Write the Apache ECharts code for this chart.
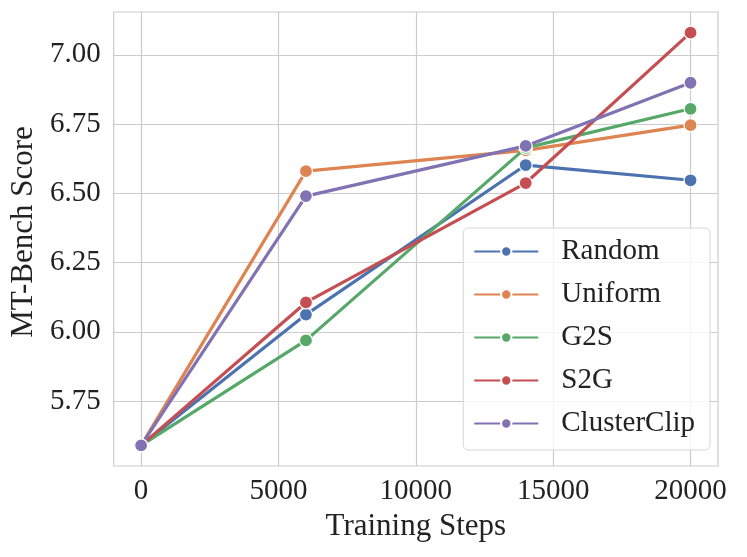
<!DOCTYPE html>
<html>
<head>
<meta charset="utf-8">
<script src="https://cdn.jsdelivr.net/npm/echarts@6/dist/echarts.min.js"></script>
<style>html,body{margin:0;padding:0;background:#fff}#c{width:747px;height:557px}</style>
</head>
<body>
<div id="c"></div>
<script>
const steps = [0, 6000, 14000, 20000];
const seriesNames = ['Random', 'Uniform', 'G2S', 'S2G', 'ClusterClip'];
const randomVals = [5.59, 6.062, 6.602, 6.547];
const uniformVals = [5.59, 6.580, 6.655, 6.746];
const g2sVals = [5.59, 5.969, 6.664, 6.805];
const s2gVals = [5.59, 6.106, 6.537, 7.080];
const clusterClipVals = [5.59, 6.490, 6.671, 6.899];
const xTicks = [0, 5000, 10000, 15000, 20000];
const yTicks = [5.75, 6.00, 6.25, 6.50, 6.75, 7.00];
const colors = ['#4c72b0', '#dd8452', '#55a868', '#c44e52', '#8172b3'];

const allVals = [randomVals, uniformVals, g2sVals, s2gVals, clusterClipVals];
const flat = allVals.flat();
const yMinD = Math.min(...flat), yMaxD = Math.max(...flat);
const yPad = (yMaxD - yMinD) * 0.05;
const xPad = (steps[steps.length - 1] - steps[0]) * 0.05;
const font = 'Liberation Serif, Times New Roman, serif';

const chart = echarts.init(document.getElementById('c'));
chart.setOption({
  animation: false,
  backgroundColor: '#fff',
  color: colors,
  grid: { left: 113, right: 29, top: 12, bottom: 91, show: true, borderColor: '#cccccc', borderWidth: 1.2, containLabel: false },
  xAxis: {
    type: 'value',
    min: steps[0] - xPad, max: steps[steps.length - 1] + xPad,
    name: 'Training Steps', nameLocation: 'middle', nameGap: 42,
    nameTextStyle: { fontFamily: font, fontSize: 31, color: '#222' },
    axisLine: { show: false },
    axisTick: { show: false, customValues: xTicks },
    axisLabel: { customValues: xTicks, formatter: v => String(v), fontFamily: font, fontSize: 29, color: '#222', margin: 11 },
    splitLine: { show: true, lineStyle: { color: '#cccccc', width: 1.2 } }
  },
  yAxis: {
    type: 'value',
    min: yMinD - yPad, max: yMaxD + yPad,
    name: 'MT-Bench Score', nameLocation: 'middle', nameGap: 74, nameRotate: 90,
    nameTextStyle: { fontFamily: font, fontSize: 31, color: '#222', padding: [0, 0, 0, 14] },
    axisLine: { show: false },
    axisTick: { show: false, customValues: yTicks },
    axisLabel: { customValues: yTicks, formatter: v => v.toFixed(2), fontFamily: font, fontSize: 29, color: '#222', margin: 13 },
    splitLine: { show: true, lineStyle: { color: '#cccccc', width: 1.2 } }
  },
  legend: {
    orient: 'vertical', right: 37, top: 228,
    padding: [9, 15, 12, 10],
    itemWidth: 64, itemHeight: 13, itemGap: 14,
    backgroundColor: 'rgba(255,255,255,0.8)', borderColor: '#d6d6d6', borderWidth: 1, borderRadius: 5,
    textStyle: { fontFamily: font, fontSize: 29, lineHeight: 29, color: '#222', padding: [0, 0, 0, 18] },
    data: seriesNames
  },
  series: seriesNames.map((n, i) => ({
    name: n, type: 'line',
    data: steps.map((s, j) => [s, allVals[i][j]]),
    symbol: 'circle', symbolSize: 13,
    lineStyle: { width: 3.2, color: colors[i] },
    itemStyle: { color: colors[i], borderColor: '#fff', borderWidth: 1.2 },
    z: 2 + i
  }))
});
</script>
</body>
</html>
